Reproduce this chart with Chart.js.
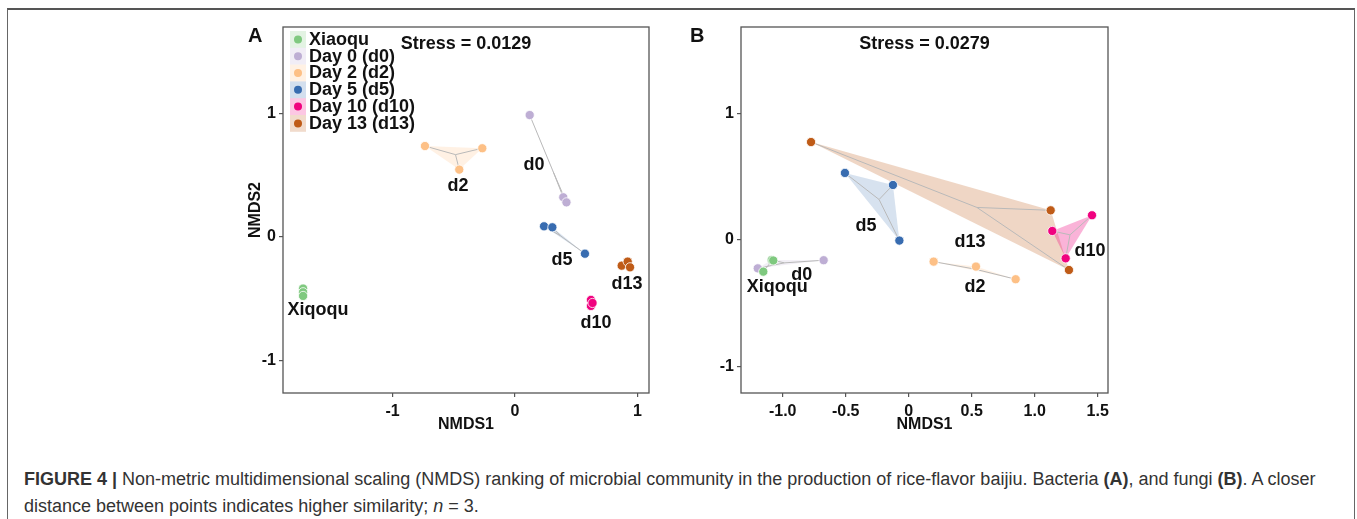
<!DOCTYPE html>
<html>
<head>
<meta charset="utf-8">
<script src="https://cdn.jsdelivr.net/npm/chart.js@4.4.0/dist/chart.umd.min.js"></script>
<style>
  body { margin: 0; background: #fff; font-family: "Liberation Sans", Arial, sans-serif; }
  #page { position: relative; width: 1357px; height: 519px; overflow: hidden; }
  #frame { position: absolute; left: 7px; top: 8px; width: 1346px; height: 530px;
           border-top: 2px solid #555; border-left: 1.5px solid #666; border-right: 1.5px solid #666; }
  .wrap { position: absolute; top: 0; width: 430px; height: 440px; }
  .letter { position: absolute; font-weight: bold; font-size: 20px; color: #111; }
  #caption { position: absolute; left: 24px; top: 466px; font-size: 18px; line-height: 27px; color: #333; white-space: nowrap; }
</style>
</head>
<body>
<div id="page">
  <div id="frame"></div>
  <div class="wrap" style="left:230px"><canvas id="chartA"></canvas></div>
  <div class="wrap" style="left:690px"><canvas id="chartB"></canvas></div>
  <div class="letter" style="left:248px; top:24px">A</div>
  <div class="letter" style="left:690px; top:24px">B</div>
  <div id="caption"><b>FIGURE 4 |</b> Non-metric multidimensional scaling (NMDS) ranking of microbial community in the production of rice-flavor baijiu. Bacteria <b>(A)</b>, and fungi <b>(B)</b>. A closer<br>distance between points indicates higher similarity; <i>n</i> = 3.</div>
</div>
<script>
// groups, legend text, point labels
const groups = ['Xiaoqu', 'd0', 'd2', 'd5', 'd10', 'd13'];
const legendLabels = ['Xiaoqu', 'Day 0 (d0)', 'Day 2 (d2)', 'Day 5 (d5)', 'Day 10 (d10)', 'Day 13 (d13)'];
const pointLabels = ['Xiqoqu', 'd0', 'd2', 'd5', 'd10', 'd13'];

// panel A - bacteria, NMDS1/NMDS2 per sample
const bacXiaoqu = [[-1.73, -0.42], [-1.73, -0.45], [-1.73, -0.48]];
const bacD0 = [[0.12, 0.985], [0.394, 0.319], [0.42, 0.278]];
const bacD2 = [[-0.735, 0.734], [-0.267, 0.716], [-0.455, 0.543]];
const bacD5 = [[0.237, 0.084], [0.305, 0.076], [0.571, -0.138]];
const bacD10 = [[0.62, -0.512], [0.62, -0.561], [0.633, -0.537]];
const bacD13 = [[0.871, -0.235], [0.92, -0.202], [0.939, -0.248]];
const bacLabelAt = [[-1.608, -0.594], [0.155, 0.58], [-0.465, 0.41], [0.384, -0.189], [0.661, -0.699], [0.914, -0.383]];
const bacStress = 'Stress = 0.0129';

// panel B - fungi
const funXiaoqu = [[-1.154, -0.25], [-1.087, -0.158], [-1.075, -0.162]];
const funD0 = [[-1.198, -0.224], [-1.087, -0.158], [-0.675, -0.16]];
const funD2 = [[0.198, -0.171], [0.534, -0.21], [0.849, -0.31]];
const funD5 = [[-0.506, 0.529], [-0.125, 0.434], [-0.074, -0.005]];
const funD10 = [[1.455, 0.195], [1.14, 0.071], [1.246, -0.145]];
const funD13 = [[-0.775, 0.773], [1.127, 0.234], [1.272, -0.237]];
const funLabelAt = [[-1.043, -0.373], [-0.849, -0.276], [0.526, -0.369], [-0.339, 0.11], [1.44, -0.084], [0.486, -0.013]];
const funStress = 'Stress = 0.0279';

// ticks
const ticksA_x = [-1, 0, 1];
const ticksA_y = [-1, 0, 1];
const ticksB_x = [-1, -0.5, 0, 0.5, 1, 1.5];
const ticksB_xLabels = ['-1.0', '-0.5', '0', '0.5', '1.0', '1.5'];
const ticksB_y = [-1, 0, 1];

const colors = ['#7fc97f', '#beaed4', '#fdc086', '#386cb0', '#f0027f', '#bf5b17'];
const hullAlpha = [0.2, 0.2, 0.22, 0.2, 0.3, 0.25];
const FONT = '"Liberation Sans", Arial, sans-serif';

function rgba(hex, a) {
    const n = parseInt(hex.slice(1), 16);
    return `rgba(${n >> 16},${(n >> 8) & 255},${n & 255},${a})`;
}

function buildDatasets(sets) {
    const ds = [];
    sets.forEach((pts, g) => {
        const xy = pts.map(p => ({ x: p[0], y: p[1] }));
        const cx = pts.reduce((s, p) => s + p[0], 0) / pts.length;
        const cy = pts.reduce((s, p) => s + p[1], 0) / pts.length;
        // hull (three points -> triangle)
        ds.push({
            data: xy.concat([xy[0]]), showLine: true, fill: 'shape',
            backgroundColor: rgba(colors[g], hullAlpha[g]),
            borderColor: 'transparent', borderWidth: 0, pointRadius: 0, order: 3
        });
        // spider lines from centroid
        const spider = [];
        xy.forEach((p, i) => {
            if (i > 0) spider.push({ x: null, y: null });
            spider.push({ x: cx, y: cy }, p);
        });
        ds.push({
            data: spider, showLine: true, spanGaps: false, fill: false,
            borderColor: '#b9b9b9', borderWidth: 1, pointRadius: 0, order: 2
        });
        ds.push({
            data: xy, showLine: false,
            backgroundColor: colors[g], borderColor: '#ffffff', borderWidth: 0.8,
            pointRadius: 4.6, order: 1
        });
    });
    return ds;
}

const decor = {
    id: 'decor',
    afterDatasetsDraw(chart, args, o) {
        const { ctx, chartArea: a, scales } = chart;
        ctx.save();
        ctx.strokeStyle = '#555';
        ctx.lineWidth = 1.3;
        ctx.strokeRect(a.left, a.top, a.right - a.left, a.bottom - a.top);
        ctx.fillStyle = '#111';
        ctx.textAlign = 'center';
        ctx.textBaseline = 'middle';
        ctx.font = 'bold 18px ' + FONT;
        o.labelAt.forEach((p, i) => {
            ctx.fillText(pointLabels[i], scales.x.getPixelForValue(p[0]), scales.y.getPixelForValue(p[1]));
        });
        ctx.fillText(o.stress, (a.left + a.right) / 2, a.top + 17);
        if (o.legend) {
            const lx = a.left + 7, ly = a.top + 4, h = 16.8;
            groups.forEach((g, i) => {
                const y = ly + i * h;
                ctx.fillStyle = rgba(colors[i], 0.22);
                ctx.fillRect(lx, y, 16, h);
                ctx.fillStyle = colors[i];
                ctx.beginPath();
                ctx.arc(lx + 8, y + h / 2, 4, 0, Math.PI * 2);
                ctx.fill();
                ctx.fillStyle = '#111';
                ctx.textAlign = 'left';
                ctx.fillText(legendLabels[i], lx + 19, y + h / 2 + 0.5);
            });
        }
        ctx.restore();
    }
};

function makeChart(id, sets, cfg) {
    const tickFont = { family: FONT, size: 16, weight: 'bold' };
    const grid = { display: true, drawOnChartArea: false, drawTicks: true, tickLength: 4, color: '#555', lineWidth: 1.2 };
    return new Chart(document.getElementById(id), {
        type: 'scatter',
        data: { datasets: buildDatasets(sets) },
        options: {
            responsive: true, maintainAspectRatio: false, animation: false, events: [],
            layout: { padding: cfg.padding },
            plugins: { legend: { display: false }, tooltip: { enabled: false },
                       decor: { labelAt: cfg.labelAt, stress: cfg.stress, legend: cfg.legend } },
            scales: {
                x: {
                    type: 'linear', min: cfg.xMin, max: cfg.xMax,
                    border: { display: false }, grid: grid,
                    afterBuildTicks: s => { s.ticks = cfg.xTicks.map(v => ({ value: v })); },
                    afterFit: s => { s.height = 47; },
                    ticks: { font: tickFont, color: '#111', padding: 5,
                             callback: (v) => cfg.xLabels ? cfg.xLabels[cfg.xTicks.indexOf(v)] : String(v) },
                    title: { display: true, text: 'NMDS1', color: '#111', font: { family: FONT, size: 16, weight: 'bold' },
                             padding: { top: 0, bottom: 6 } }
                },
                y: {
                    type: 'linear', min: cfg.yMin, max: cfg.yMax,
                    border: { display: false }, grid: grid,
                    afterBuildTicks: s => { s.ticks = cfg.yTicks.map(v => ({ value: v })); },
                    afterFit: s => { s.width = cfg.yWidth; },
                    ticks: { font: tickFont, color: '#111', padding: 3 },
                    title: { display: cfg.yTitle, text: 'NMDS2', color: '#111', font: { family: FONT, size: 16, weight: 'bold' },
                             padding: { top: 0, bottom: 0 } }
                }
            }
        },
        plugins: [decor]
    });
}

makeChart('chartA', [bacXiaoqu, bacD0, bacD2, bacD5, bacD10, bacD13], {
    xMin: -1.894, xMax: 1.094, yMin: -1.266, yMax: 1.698,
    xTicks: ticksA_x, yTicks: ticksA_y, yWidth: 37, yTitle: true,
    padding: { top: 27, right: 11, left: 16, bottom: 0 },
    labelAt: bacLabelAt, stress: bacStress, legend: true
});

makeChart('chartB', [funXiaoqu, funD0, funD2, funD5, funD10, funD13], {
    xMin: -1.331, xMax: 1.582, yMin: -1.208, yMax: 1.681,
    xTicks: ticksB_x, xLabels: ticksB_xLabels, yTicks: ticksB_y, yWidth: 51, yTitle: false,
    padding: { top: 27, right: 12, left: 0, bottom: 0 },
    labelAt: funLabelAt, stress: funStress, legend: false
});
</script>
</body>
</html>
